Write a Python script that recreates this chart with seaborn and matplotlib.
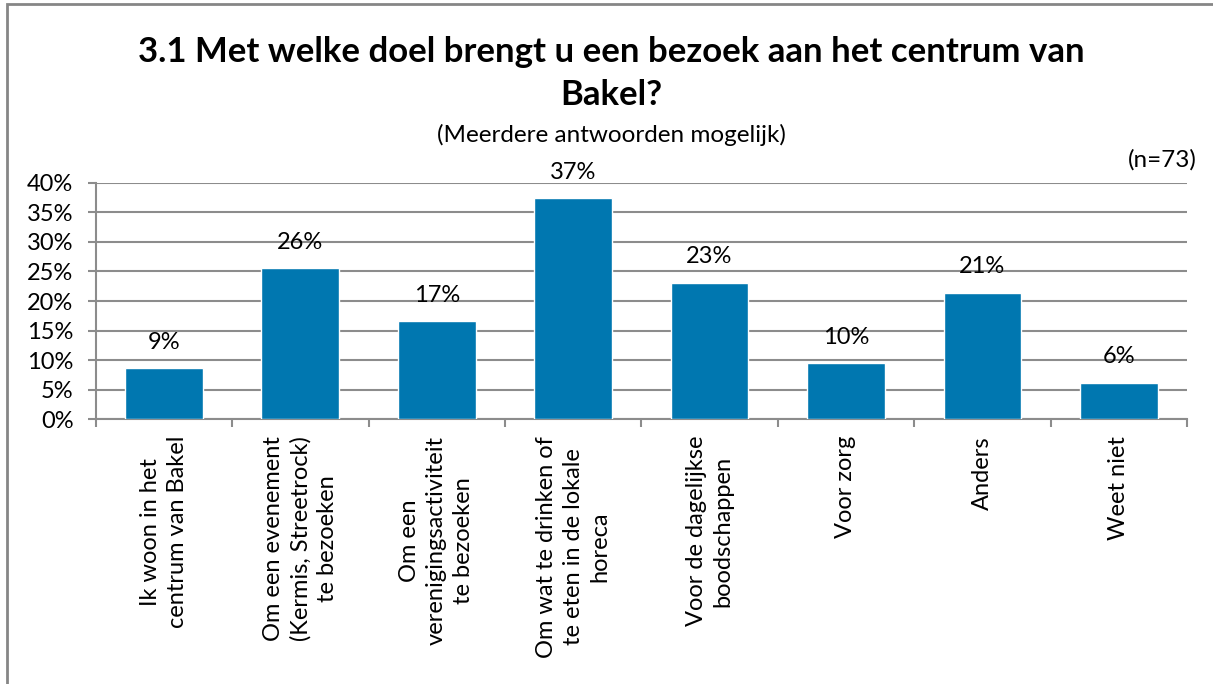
import numpy as np
import pandas as pd
import matplotlib
matplotlib.use("Agg")
import matplotlib.pyplot as plt
from matplotlib.patches import Rectangle
from matplotlib.ticker import FixedLocator, PercentFormatter
import seaborn as sns

# data
categories = [
    "Ik woon in het\ncentrum van Bakel",
    "Om een evenement\n(Kermis, Streetrock)\nte bezoeken",
    "Om een\nverenigingsactiviteit\nte bezoeken",
    "Om wat te drinken of\nte eten in de lokale\nhoreca",
    "Voor de dagelijkse\nboodschappen",
    "Voor zorg",
    "Anders",
    "Weet niet",
]
values = [8.6, 25.6, 16.6, 37.4, 23.1, 9.5, 21.4, 6.2]
labels = ["9%", "26%", "17%", "37%", "23%", "10%", "21%", "6%"]
yticks = [0, 5, 10, 15, 20, 25, 30, 35, 40]

sns.set_style("white")
plt.rcParams['font.family'] = ['Lato', 'DejaVu Sans']
plt.rcParams['text.color'] = 'black'
plt.rcParams['xtick.color'] = 'black'
plt.rcParams['ytick.color'] = 'black'

W, H = 1213, 684
fig = plt.figure(figsize=(W/100, H/100), dpi=100)
ax = fig.add_axes([95.7/W, 1-419.3/H, (1187-95.7)/W, (419.3-182.7)/H])

df = pd.DataFrame({"cat": categories, "val": values})
sns.barplot(data=df, x="cat", y="val", color="#0077b0", saturation=1,
            width=0.57, ax=ax, zorder=3)

grid = "#8c8c8c"
ax.set_ylim(0, 40)
ax.set_xlim(-0.5, len(categories)-0.5)
ax.set_yticks(yticks)
ax.yaxis.set_major_formatter(PercentFormatter(decimals=0))
ax.yaxis.grid(True, color=grid, lw=1.5, zorder=0)
ax.set_axisbelow(True)
for s in ["top", "right"]:
    ax.spines[s].set_visible(False)
for s in ["left", "bottom"]:
    ax.spines[s].set_color(grid)
    ax.spines[s].set_linewidth(1.5)
ax.tick_params(axis="y", length=6, width=1.5, color=grid, labelcolor="black",
               labelsize=17, pad=10, left=True)
ax.xaxis.set_minor_locator(FixedLocator(np.arange(-0.5, len(categories)+0.5, 1)))
ax.tick_params(axis="x", which="minor", length=6, width=1.5, color=grid, bottom=True)
ax.tick_params(axis="x", which="major", length=0, pad=12, labelcolor="black")
ax.set_xticks(range(len(categories)))
ax.set_xticklabels(categories, rotation=90, ha="center", va="top",
                   multialignment="center", fontsize=17, linespacing=1.35)
ax.set_xlabel("")
ax.set_ylabel("")

for i, (v, t) in enumerate(zip(values, labels)):
    ax.annotate(t, (i, v), xytext=(0, 11), textcoords="offset points",
                ha="center", va="bottom", fontsize=17)

fig.text(611/W, 1-73.5/H, "3.1 Met welke doel brengt u een bezoek aan het centrum van\nBakel?",
         ha="center", va="center", fontsize=25, fontweight="bold", linespacing=1.45)
fig.text(611/W, 1-135/H, "(Meerdere antwoorden mogelijk)", ha="center", va="center", fontsize=17.5)
fig.text(1197/W, 1-160/H, "(n=73)", ha="right", va="center", fontsize=17.5)

fig.patches.append(Rectangle((7/W, -0.1), 1.2, 1.1-4.5/H, transform=fig.transFigure,
                             fill=False, ec="#868686", lw=2))

fig.savefig("out.png", dpi=100)
